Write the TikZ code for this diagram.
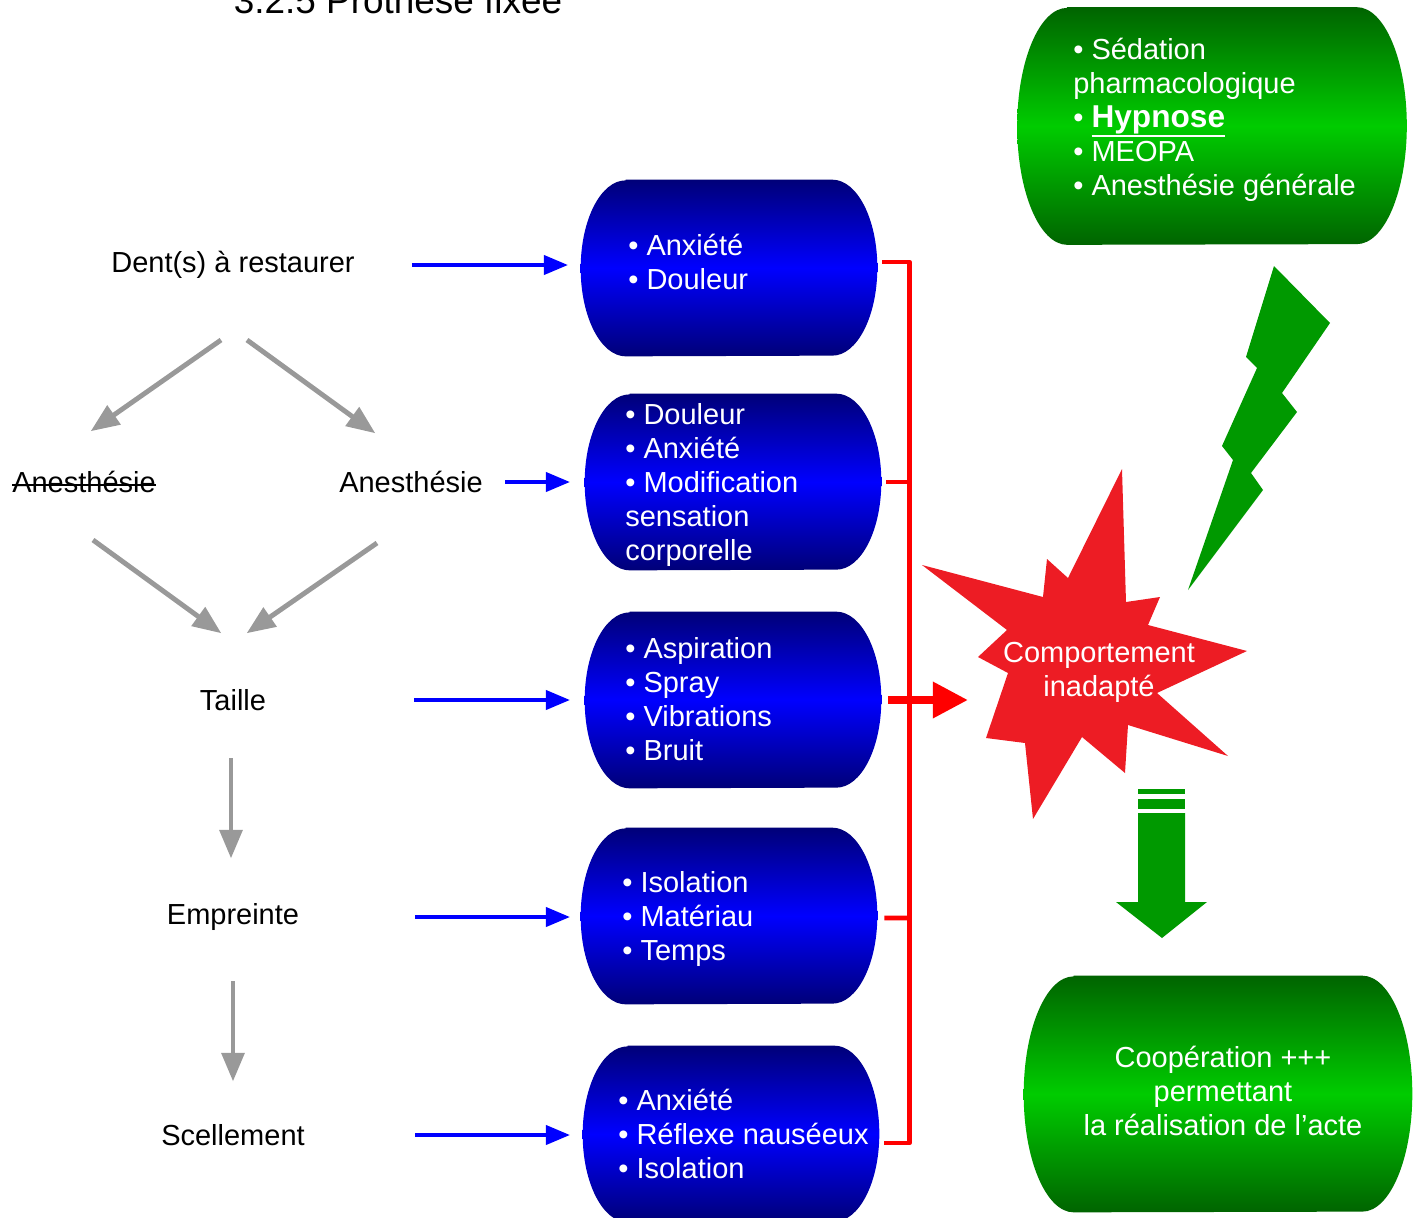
\documentclass[tikz,border=0pt]{standalone}
\usepackage{fontspec}
\setmainfont{Liberation Sans}
\usetikzlibrary{arrows,arrows.meta}

\definecolor{navyblue}{RGB}{0,0,120}
\definecolor{brightblue}{RGB}{0,0,255}
\definecolor{darkgreen}{RGB}{0,100,0}
\definecolor{brightgreen}{RGB}{0,204,0}
\definecolor{boltgreen}{RGB}{0,153,0}
\definecolor{starred}{RGB}{237,28,36}
\definecolor{arrowgray}{RGB}{153,153,153}

\tikzset{
  txt/.style={font=\fontsize{16.5}{19.35}\selectfont, inner sep=0pt},
  boxtxt/.style={txt, text=white, align=left, anchor=west},
  capsule/.style={minimum width=5.92cm, minimum height=3.52cm, inner sep=0pt},
  grayarrow/.style={->, color=arrowgray, line width=2.8pt},
  bluearrow/.style={->, color=blue, line width=2.2pt},
  redline/.style={color=red, line width=2.8pt},
  bluefill/.style={top color=navyblue, bottom color=navyblue, middle color=brightblue},
  greenfill/.style={top color=darkgreen, bottom color=darkgreen, middle color=brightgreen}
}

\newcommand{\capsulebg}[4]{%
  \shade[#4] ([xshift=#2]#1.north west) -- ([xshift=-#2]#1.north east)
    arc[start angle=90, end angle=-90, x radius=#2, y radius=#3]
    -- ([xshift=#2]#1.south west)
    arc[start angle=270, end angle=90, x radius=#2, y radius=#3] -- cycle;}
\newcommand{\barre}[1]{\setbox0\hbox{#1}\rlap{\rule[0.22em]{\wd0}{1pt}}\box0}
\newcommand{\souligne}[1]{\setbox0\hbox{#1}\rlap{\rule[-\dimexpr\dp0+1.8pt\relax]{\wd0}{1.6pt}}\box0}

\begin{document}
\begin{tikzpicture}[line join=round,>=triangle 45,x=0.02cm,y=-0.02cm]
    \useasboundingbox (0,0) rectangle (1418,1218);
    \node[txt, font=\fontsize{21}{25}\selectfont, anchor=base] (titre) at (398,13) {3.2.5 Prothèse fixée};

    % etapes
    \node[txt] (dent) at (233,265) {Dent(s) à restaurer};
    \node[txt] (anesno) at (84,482) {\barre{Anesthésie}};
    \node[txt] (anes) at (411,482) {Anesthésie};
    \node[txt] (taille) at (233,700) {Taille};
    \node[txt] (empreinte) at (233,917) {Empreinte};
    \node[txt] (scellement) at (233,1135) {Scellement};

    \draw[grayarrow] ([shift={(-12,75)}]dent.center) -- ([shift={(7,-51)}]anesno.center);
    \draw[grayarrow] ([shift={(14,75)}]dent.center) -- ([shift={(-36,-49)}]anes.center);
    \draw[grayarrow] ([shift={(9,58)}]anesno.center) -- ([shift={(-12,-67)}]taille.center);
    \draw[grayarrow] ([shift={(-34,61)}]anes.center) -- ([shift={(14,-67)}]taille.center);
    \draw[grayarrow] ([shift={(-2,58)}]taille.center) -- ([shift={(-2,-59)}]empreinte.center);
    \draw[grayarrow] ([shift={(0,64)}]empreinte.center) -- ([shift={(0,-54)}]scellement.center);

    % facteurs
    \node[capsule] (b1) at (729,268) {};
    \node[capsule] (b2) at (733,482) {};
    \node[capsule] (b3) at (733,700) {};
    \node[capsule] (b4) at (729,916) {};
    \node[capsule] (b5) at (731,1134) {};
    \foreach \b in {b1,b2,b3,b4,b5}
    \capsulebg{\b}{0.9cm}{1.76cm}{bluefill};

    \node[boxtxt] (t1) at (628,262) {\textbullet{} Anxiété\\\textbullet{} Douleur};
    \node[boxtxt] (t2) at (625,485) {\textbullet{} Douleur\\\textbullet{} Anxiété\\\textbullet{} Modification\\sensation\\corporelle};
    \node[boxtxt] (t3) at (625,699) {\textbullet{} Aspiration\\\textbullet{} Spray\\\textbullet{} Vibrations\\\textbullet{} Bruit};
    \node[boxtxt] (t4) at (622,919) {\textbullet{} Isolation\\\textbullet{} Matériau\\\textbullet{} Temps};
    \node[boxtxt] (t5) at (618,1134) {\textbullet{} Anxiété\\\textbullet{} Réflexe nauséeux\\\textbullet{} Isolation};

    \draw[bluearrow, shorten <=1.14cm, shorten >=0.26cm] (dent.east) -- (dent.east -| b1.west);
    \draw[bluearrow, shorten <=0.44cm, shorten >=0.3cm] (anes.east) -- (anes.east -| b2.west);
    \draw[bluearrow, shorten <=2.96cm, shorten >=0.3cm] (taille.east) -- (taille.east -| b3.west);
    \draw[bluearrow, shorten <=2.32cm, shorten >=0.22cm] (empreinte.east) -- (empreinte.east -| b4.west);
    \draw[bluearrow, shorten <=2.2cm, shorten >=0.26cm] (scellement.east) -- (scellement.east -| b5.west);

    % comportement
    \fill[starred] (1122,469) -- (1126,602) -- (1160,597) -- (1148,625) -- (1247,651) -- (1157,693)
      -- (1228,756) -- (1128,725) -- (1125,773) -- (1082,737) -- (1033,819) -- (1025,743)
      -- (986,738) -- (1008,673) -- (978,657) -- (1007,630) -- (922,565) -- (1043,597)
      -- (1047,559) -- (1068,578) -- cycle;
    \node[txt, text=white, align=center] (comp) at (1099,672) {Comportement\\inadapté};

    \draw[redline] ([shift={(5,-6)}]b1.east) -- ++(27,0) coordinate (bar) |- ([shift={(5,9)}]b5.east);
    \draw[redline] ([xshift=0.1cm]b2.east) -- (b2.east -| bar);
    \draw[redline] ([shift={(7,2)}]b4.east) -- ([yshift=-0.04cm]b4.east -| bar);
    \draw[color=red, line width=4pt, -{Triangle[length=0.7cm,width=0.7cm]}, shorten <=0.14cm, shorten >=0.7cm] (b3.east) -- (b3.east -| comp.west);

    % solutions
    \node[capsule, minimum width=7.78cm, minimum height=4.74cm] (g1) at (1212,126) {};
    \node[capsule, minimum width=7.76cm, minimum height=4.72cm] (g2) at (1218,1094) {};
    \capsulebg{g1}{1.0cm}{2.37cm}{greenfill};
    \capsulebg{g2}{1.0cm}{2.36cm}{greenfill};
    \node[boxtxt] (tg1) at (1073,120) {\textbullet{} Sédation\\pharmacologique\\\textbullet{} {\fontsize{18}{19.35}\selectfont\souligne{\textbf{Hypnose}}}\\\textbullet{} MEOPA\\\textbullet{} Anesthésie générale};
    \node[txt, text=white, align=center] (tg2) at (1223,1091) {Coopération +++\\permettant\\la réalisation de l’acte};

    \fill[boltgreen] (1274,266) -- (1330,323) -- (1282,393) -- (1297,412) -- (1251,473) -- (1263,490)
      -- (1188,590) -- (1233,460) -- (1222,446) -- (1257,368) -- (1246,357) -- cycle;
    \fill[boltgreen] (1138,789) rectangle (1185,794);
    \fill[boltgreen] (1138,799) rectangle (1185,809);
    \fill[boltgreen] (1138,813) -- (1185,813) -- (1185,902) -- (1207,902) -- (1162,938) -- (1116,902) -- (1138,902) -- cycle;
\end{tikzpicture}
\end{document}
